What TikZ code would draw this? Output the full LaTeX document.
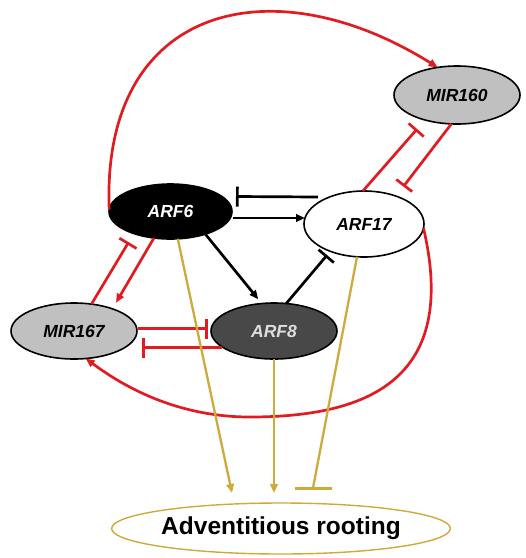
\documentclass[tikz,border=0pt]{standalone}
\usepackage{fontspec}
\setmainfont{Liberation Sans}
\usetikzlibrary{arrows.meta,calc,shapes.geometric}
\definecolor{netred}{RGB}{224,28,34}
\definecolor{netgold}{RGB}{206,170,58}
\definecolor{mirgray}{RGB}{192,192,192}
\definecolor{arfdark}{RGB}{72,72,72}
\definecolor{arflight}{RGB}{222,222,222}
\tikzset{
  gene/.style={ellipse, draw=black, line width=1.6pt, inner sep=0pt, outer sep=0pt,
    font=\fontsize{17.5}{20}\selectfont\bfseries\itshape},
  act/.style={-{Triangle[length=9pt,width=7.5pt]}},
  inhb/.style={-{Bar[width=20pt]}},
  redline/.style={draw=netred, line width=2.7pt},
  blkline/.style={draw=black, line width=2.7pt},
  goldline/.style={draw=netgold, line width=2.3pt},
}
\begin{document}
\begin{tikzpicture}[x=1pt,y=-1pt]
\useasboundingbox (0,0) rectangle (526,558);
% nodes
\node[gene, fill=black, text=white, minimum width=123pt, minimum height=55pt] (arf6) at (170.5,211.5) {ARF6};
\node[gene, fill=white, minimum width=120pt, minimum height=66pt] (arf17) at (364,224) {ARF17};
\node[gene, fill=mirgray, minimum width=126pt, minimum height=58pt] (mir160) at (457,95) {MIR160};
\node[gene, fill=mirgray, minimum width=126pt, minimum height=56pt] (mir167) at (74,331) {MIR167};
\node[gene, fill=arfdark, text=arflight, minimum width=126pt, minimum height=56pt] (arf8) at (274,331) {ARF8};
\node[ellipse, draw=netgold, line width=1.4pt, inner sep=0pt, minimum width=310pt, minimum height=51pt,
  font=\fontsize{24.5}{28}\selectfont\bfseries] (root) at (281,528.5) {Adventitious rooting};
% red connectors
\draw[redline, act] (arf6.178) .. controls +(-8,-205) and +(-165.4,-103.4) .. (mir160.125);
\draw[redline, inhb, shorten >=12pt] (arf17.92) -- (mir160.218);
\draw[redline, inhb, shorten >=12pt] (mir160.259) -- (arf17.41);
\draw[redline, inhb, shorten >=10pt] (mir167.57) -- (arf6.211);
\draw[redline, act, shorten >=7pt] (arf6.238) -- (mir167.30);
\draw[redline, inhb] ($(mir167.center)+(64,-2.5)$) -- ($(arf8.center)+(-66,-2.5)$);
\draw[redline, inhb] ($(arf8.center)+(-52,16.5)$) -- ($(mir167.center)+(68,16.5)$);
\draw[redline, act] (arf17.-4) .. controls +(35,150) and +(120,0) .. ($(arf8.center)+(-24,86)$)
  .. controls +(-80,0) and +(30,22) .. (mir167.-67);
% black connectors
\draw[blkline, inhb] ($(arf17.center)+(-46,-27)$) -- ($(arf6.center)+(65.5,-15)$);
\draw[blkline, act] ($(arf6.center)+(62,6.5)$) -- ($(arf17.center)+(-59,-6)$);
\draw[blkline, act, shorten >=5.5pt] (arf6.-33) -- (arf8.114);
\draw[blkline, inhb, shorten >=5pt] (arf8.66) -- (arf17.219);
% gold connectors
\draw[goldline, act] (arf6.-75) -- ($(root.center)+(-49,-35.5)$);
\draw[goldline, act] (arf8.south) -- ($(root.center)+(-7,-35.5)$);
\draw[goldline] (arf17.258) -- ($(root.center)+(32,-40.5)$);
\draw[goldline, line width=3pt] ($(root.center)+(14,-40.5)$) -- ($(root.center)+(51,-40.5)$);
\end{tikzpicture}
\end{document}
